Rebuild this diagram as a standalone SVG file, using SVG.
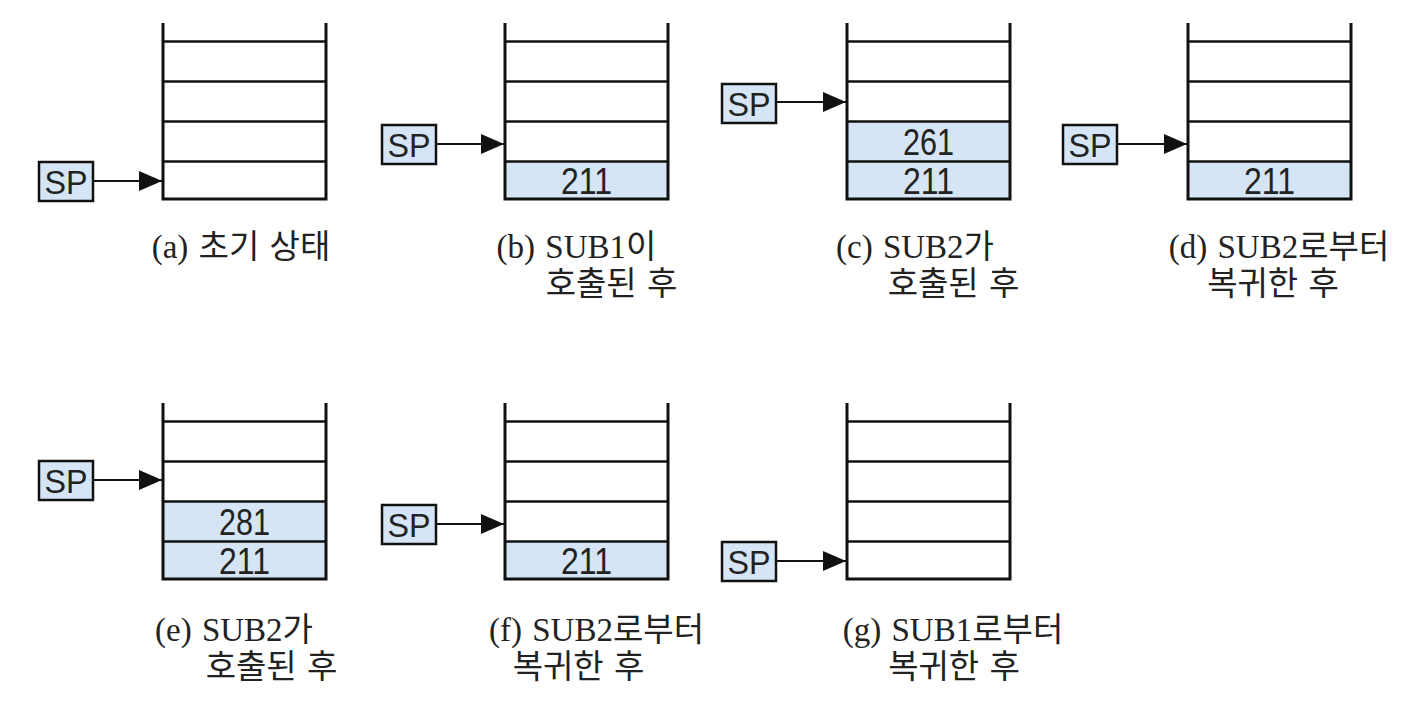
<svg xmlns="http://www.w3.org/2000/svg" width="1412" height="728" viewBox="0 0 1412 728">
<style>
.frame{fill:none;stroke:#111;stroke-width:3}
.rule{stroke:#111;stroke-width:2.5}
.cell{fill:#d5e5f5;stroke:none}
.sp{fill:#d5e5f5;stroke:#111;stroke-width:2.5}
.sptxt{font-family:"Liberation Sans",Arial,sans-serif;font-size:34px;fill:#222;text-anchor:middle}
.num{font-family:"Liberation Sans",Arial,sans-serif;font-size:37px;fill:#222;text-anchor:middle}
.lbl{font-family:"Liberation Serif","Noto Sans CJK KR",serif;font-size:33px;fill:#222;text-anchor:middle;word-spacing:2px}
.arr{stroke:#111;stroke-width:2.2;fill:none}
</style>
<defs>
<marker id="ah" markerUnits="userSpaceOnUse" markerWidth="23" markerHeight="20" refX="23" refY="10" orient="auto">
<path d="M0,0 L23,10 L0,20 z" fill="#111"/>
</marker>
<g id="stackTop">
<path class="frame" d="M0,0 V176 H163 V0"/>
<line class="rule" x1="0" y1="18.5" x2="163" y2="18.5"/>
<line class="rule" x1="0" y1="58.5" x2="163" y2="58.5"/>
<line class="rule" x1="0" y1="98.5" x2="163" y2="98.5"/>
<line class="rule" x1="0" y1="138.5" x2="163" y2="138.5"/>
</g>
</defs>

<!-- (a) -->
<g id="panel-a">
<use href="#stackTop" x="163" y="23"/>
<rect class="sp" x="39" y="162" width="54" height="39"/>
<text class="sptxt" x="66" y="194" textLength="43" lengthAdjust="spacingAndGlyphs">SP</text>
<text class="lbl" x="241" y="258">(a) 초기 상태</text>
</g>

<!-- (b) -->
<g id="panel-b">
<rect class="cell" x="505" y="161.5" width="163" height="37.5"/>
<use href="#stackTop" x="505" y="23"/>
<text class="num" x="586.5" y="194" textLength="51" lengthAdjust="spacingAndGlyphs">211</text>
<rect class="sp" x="382" y="125" width="54" height="39"/>
<text class="sptxt" x="409" y="157" textLength="43" lengthAdjust="spacingAndGlyphs">SP</text>
<text class="lbl" x="576.5" y="258">(b) SUB1이</text>
<text class="lbl" x="611.5" y="295">호출된 후</text>
</g>

<!-- (c) -->
<g id="panel-c">
<rect class="cell" x="847" y="121.5" width="163" height="77.5"/>
<use href="#stackTop" x="847" y="23"/>
<text class="num" x="928.5" y="155" textLength="51" lengthAdjust="spacingAndGlyphs">261</text>
<text class="num" x="928.5" y="194" textLength="51" lengthAdjust="spacingAndGlyphs">211</text>
<rect class="sp" x="722" y="84" width="54" height="39"/>
<text class="sptxt" x="749" y="116" textLength="43" lengthAdjust="spacingAndGlyphs">SP</text>
<text class="lbl" x="915" y="258">(c) SUB2가</text>
<text class="lbl" x="953.5" y="295">호출된 후</text>
</g>

<!-- (d) -->
<g id="panel-d">
<rect class="cell" x="1188" y="161.5" width="163" height="37.5"/>
<use href="#stackTop" x="1188" y="23"/>
<text class="num" x="1269.5" y="194" textLength="51" lengthAdjust="spacingAndGlyphs">211</text>
<rect class="sp" x="1063" y="125" width="54" height="39"/>
<text class="sptxt" x="1090" y="157" textLength="43" lengthAdjust="spacingAndGlyphs">SP</text>
<text class="lbl" x="1279" y="258">(d) SUB2로부터</text>
<text class="lbl" x="1273" y="295">복귀한 후</text>
</g>

<!-- (e) -->
<g id="panel-e">
<rect class="cell" x="163" y="501.5" width="163" height="77.5"/>
<use href="#stackTop" x="163" y="403"/>
<text class="num" x="244.5" y="535" textLength="51" lengthAdjust="spacingAndGlyphs">281</text>
<text class="num" x="244.5" y="574" textLength="51" lengthAdjust="spacingAndGlyphs">211</text>
<rect class="sp" x="39" y="461" width="54" height="39"/>
<text class="sptxt" x="66" y="493" textLength="43" lengthAdjust="spacingAndGlyphs">SP</text>
<text class="lbl" x="234" y="641">(e) SUB2가</text>
<text class="lbl" x="271.5" y="678">호출된 후</text>
</g>

<!-- (f) -->
<g id="panel-f">
<rect class="cell" x="505" y="541.5" width="163" height="37.5"/>
<use href="#stackTop" x="505" y="403"/>
<text class="num" x="586.5" y="574" textLength="51" lengthAdjust="spacingAndGlyphs">211</text>
<rect class="sp" x="382" y="505" width="54" height="39"/>
<text class="sptxt" x="409" y="537" textLength="43" lengthAdjust="spacingAndGlyphs">SP</text>
<text class="lbl" x="596.5" y="641">(f) SUB2로부터</text>
<text class="lbl" x="578.5" y="678">복귀한 후</text>
</g>

<!-- (g) -->
<g id="panel-g">
<use href="#stackTop" x="847" y="403"/>
<rect class="sp" x="722" y="542" width="54" height="39"/>
<text class="sptxt" x="749" y="574" textLength="43" lengthAdjust="spacingAndGlyphs">SP</text>
<text class="lbl" x="953" y="641">(g) SUB1로부터</text>
<text class="lbl" x="954" y="678">복귀한 후</text>
</g>

<g id="connectors">
<line class="arr" x1="93" y1="181" x2="162" y2="181" marker-end="url(#ah)"/>
<line class="arr" x1="436" y1="144" x2="504" y2="144" marker-end="url(#ah)"/>
<line class="arr" x1="776" y1="102" x2="846" y2="102" marker-end="url(#ah)"/>
<line class="arr" x1="1117" y1="144" x2="1187" y2="144" marker-end="url(#ah)"/>
<line class="arr" x1="93" y1="480" x2="162" y2="480" marker-end="url(#ah)"/>
<line class="arr" x1="436" y1="524" x2="504" y2="524" marker-end="url(#ah)"/>
<line class="arr" x1="776" y1="561" x2="846" y2="561" marker-end="url(#ah)"/>
</g>
</svg>
